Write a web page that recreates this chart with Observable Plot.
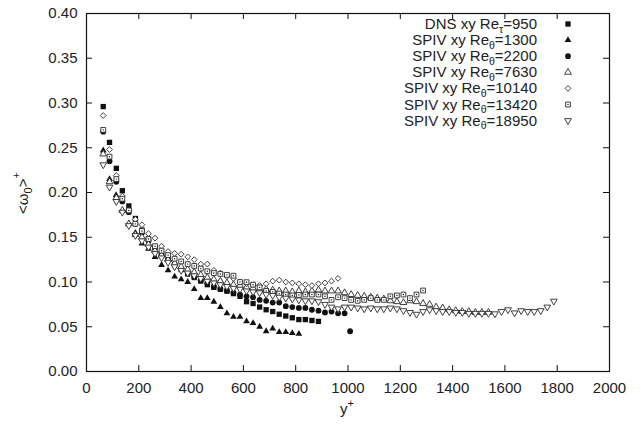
<!DOCTYPE html>
<html>
<head>
<meta charset="utf-8">
<script src="https://cdn.jsdelivr.net/npm/d3@7"></script>
<script src="https://cdn.jsdelivr.net/npm/@observablehq/plot@0.6"></script>
<style>
  html, body { margin: 0; padding: 0; background: white; }
  svg text { font-family: "Liberation Sans", Arial, sans-serif; }
</style>
</head>
<body>
<div id="chart"></div>
<script>
const xTicks = [0,200,400,600,800,1000,1200,1400,1600,1800,2000];
const yTicks = [0,0.05,0.10,0.15,0.20,0.25,0.30,0.35,0.40];

const dnsX = [64,88,114,137,162,187,212,237,262,287,312,337,362,387,412,437,462,487,512,537,562,587,612,637,662,687,712,737,762,787,812,837,862,887];
const dnsY = [0.296,0.256,0.227,0.202,0.185,0.171,0.158,0.148,0.139,0.131,0.125,0.119,0.114,0.109,0.105,0.101,0.097,0.094,0.092,0.090,0.087,0.084,0.078,0.076,0.072,0.069,0.067,0.064,0.062,0.060,0.058,0.058,0.057,0.056];

const r1300X = [64,88,113,138,162,187,212,237,262,287,312,337,362,387,412,437,462,487,512,537,562,587,612,637,662,687,712,737,762,787,812];
const r1300Y = [0.247,0.215,0.197,0.180,0.165,0.155,0.143,0.137,0.128,0.119,0.113,0.106,0.103,0.100,0.092,0.082,0.082,0.078,0.072,0.065,0.061,0.061,0.056,0.054,0.050,0.045,0.048,0.044,0.044,0.043,0.042];

const r2200X = [64,88,114,137,162,187,212,237,262,287,312,337,362,387,412,437,462,487,512,537,562,587,612,637,662,687,712,737,762,787,812,837,862,887,912,937,962,987,1008];
const r2200Y = [0.268,0.235,0.212,0.190,0.178,0.165,0.155,0.146,0.138,0.131,0.125,0.120,0.115,0.111,0.106,0.102,0.099,0.095,0.092,0.090,0.088,0.086,0.084,0.083,0.080,0.079,0.077,0.077,0.073,0.072,0.071,0.071,0.069,0.068,0.066,0.067,0.065,0.065,0.045];

const r7630X = [64,88,114,137,162,187,212,237,262,287,312,337,362,387,412,437,462,487,512,537,562,587,612,637,662,687,712,737,762,787,812,837,862,887,912,937,962,987,1012,1037,1062,1087,1112,1137,1162,1187,1212,1237,1262,1287,1312,1337,1362,1387,1412,1437,1462,1487,1512,1537];
const r7630Y = [0.243,0.212,0.194,0.180,0.165,0.153,0.150,0.142,0.135,0.130,0.125,0.121,0.117,0.114,0.111,0.108,0.105,0.103,0.101,0.099,0.097,0.096,0.094,0.093,0.092,0.092,0.091,0.090,0.090,0.089,0.090,0.089,0.090,0.091,0.090,0.090,0.090,0.088,0.086,0.085,0.084,0.083,0.082,0.081,0.079,0.078,0.077,0.079,0.078,0.076,0.075,0.072,0.071,0.069,0.068,0.067,0.067,0.066,0.066,0.066];

const r10140X = [64,88,114,137,162,187,212,237,262,287,312,337,362,387,412,437,462,487,512,537,562,587,612,637,662,687,712,737,762,787,812,837,862,887,912,937,962];
const r10140Y = [0.286,0.248,0.219,0.196,0.180,0.170,0.164,0.154,0.149,0.140,0.134,0.132,0.131,0.128,0.125,0.120,0.120,0.113,0.110,0.106,0.104,0.100,0.098,0.097,0.096,0.098,0.101,0.102,0.100,0.099,0.098,0.097,0.096,0.098,0.099,0.101,0.104];

const r13420X = [64,88,114,137,162,187,212,237,262,287,312,337,362,387,412,437,462,487,512,537,562,587,612,637,662,687,712,737,762,787,812,837,862,887,912,937,962,987,1012,1037,1062,1087,1112,1137,1162,1187,1212,1237,1262,1287];
const r13420Y = [0.270,0.240,0.215,0.193,0.180,0.165,0.157,0.148,0.140,0.135,0.130,0.126,0.123,0.120,0.118,0.115,0.112,0.110,0.109,0.108,0.107,0.100,0.0998,0.097,0.094,0.090,0.089,0.087,0.086,0.085,0.0855,0.086,0.086,0.086,0.084,0.080,0.083,0.082,0.080,0.079,0.080,0.082,0.080,0.080,0.084,0.085,0.086,0.082,0.086,0.0905];

const r18950X = [64,88,114,137,162,187,212,237,262,287,312,337,362,387,412,437,462,487,512,537,562,587,612,637,662,687,712,737,762,787,812,837,862,887,912,937,962,987,1012,1037,1062,1087,1112,1137,1162,1187,1212,1237,1262,1287,1312,1337,1362,1387,1412,1437,1462,1487,1512,1537,1562,1587,1612,1637,1662,1687,1712,1737,1762,1787];
const r18950Y = [0.231,0.206,0.190,0.178,0.163,0.152,0.146,0.139,0.132,0.127,0.122,0.117,0.113,0.110,0.107,0.104,0.101,0.099,0.097,0.095,0.093,0.092,0.090,0.089,0.088,0.086,0.085,0.083,0.082,0.081,0.080,0.079,0.079,0.078,0.075,0.072,0.070,0.072,0.072,0.071,0.070,0.071,0.070,0.070,0.071,0.070,0.068,0.066,0.064,0.067,0.069,0.068,0.067,0.067,0.066,0.066,0.065,0.065,0.065,0.065,0.0645,0.067,0.069,0.0655,0.068,0.067,0.067,0.068,0.072,0.0786];

const legendMain = ["DNS xy Re","SPIV xy Re","SPIV xy Re","SPIV xy Re","SPIV xy Re","SPIV xy Re","SPIV xy Re"];
const legendSub = ["τ","θ","θ","θ","θ","θ","θ"];
const legendTail = ["=950","=1300","=2200","=7630","=10140","=13420","=18950"];

const pts = (xs, ys) => xs.slice(0, Math.min(xs.length, ys.length)).map((x, i) => ({x, y: ys[i]}));

const W = 641, H = 424, mL = 86, mR = 32, mT = 13, mB = 53;
const pw = W - mL - mR, ph = H - mT - mB;
const ink = "#111";
const openStroke = "#2a2a2a";

const series = [
  {data: pts(dnsX, dnsY), symbol: "square", r: 3.0, fill: ink, stroke: "none"},
  {data: pts(r1300X, r1300Y), symbol: "triangle", r: 2.5, fill: ink, stroke: "none"},
  {data: pts(r2200X, r2200Y), symbol: "circle", r: 2.9, fill: ink, stroke: "none"},
  {data: pts(r7630X, r7630Y), symbol: "triangle", r: 2.5, fill: "white", stroke: openStroke},
  {data: pts(r10140X, r10140Y), symbol: "diamond2", r: 2.6, fill: "white", stroke: openStroke},
  {data: pts(r13420X, r13420Y), symbol: "square", r: 2.7, fill: "white", stroke: openStroke, dot: true},
  {data: pts(r18950X, r18950Y), symbol: "triangle", r: 2.5, fill: "white", stroke: openStroke, rotate: 180}
];

const marks = [
  Plot.axisX(xTicks, {tickSize: 0, tickPadding: 11, label: null, fontSize: 15, fill: "#222", tickFormat: d => String(d)}),
  Plot.axisY(yTicks, {tickSize: 0, tickPadding: 9, label: null, fontSize: 15, fill: "#222", tickFormat: d => d.toFixed(2)}),
  Plot.tickX(xTicks, {x: d => d, insetTop: ph - 6, stroke: ink}),
  Plot.tickX(xTicks, {x: d => d, insetBottom: ph - 6, stroke: ink}),
  Plot.tickY(yTicks, {y: d => d, insetRight: pw - 6, stroke: ink}),
  Plot.tickY(yTicks, {y: d => d, insetLeft: pw - 6, stroke: ink})
];
for (const s of series) {
  marks.push(Plot.dot(s.data, {x: "x", y: "y", symbol: s.symbol, r: s.r, fill: s.fill, stroke: s.stroke, strokeWidth: 0.9, rotate: s.rotate || 0}));
  if (s.dot) marks.push(Plot.dot(s.data, {x: "x", y: "y", r: 0.7, fill: ink}));
}
marks.push(Plot.frame({stroke: ink, strokeWidth: 1.2}));

const svg = Plot.plot({
  width: W, height: H,
  marginLeft: mL, marginRight: mR, marginTop: mT, marginBottom: mB,
  x: {domain: [0, 2000]},
  y: {domain: [0, 0.4]},
  style: {background: "white", fontFamily: "Liberation Sans, Arial, sans-serif", fontSize: "15px", overflow: "visible"},
  marks
});
document.getElementById("chart").appendChild(svg);

const sel = d3.select(svg);
const font = "Liberation Sans, Arial, sans-serif";

// legend
const lg = sel.append("g").attr("font-family", font).attr("font-size", 15).attr("fill", "#222");
series.forEach((s, i) => {
  const yb = 29 + i * 16.1;
  const t = lg.append("text").attr("x", 537).attr("y", yb).attr("text-anchor", "end");
  t.append("tspan").text(legendMain[i]);
  t.append("tspan").attr("dy", 3.5).attr("font-size", 10.5).text(legendSub[i]);
  t.append("tspan").attr("dy", -3.5).text(legendTail[i]);
  const sym = {square: d3.symbolSquare, triangle: d3.symbolTriangle, circle: d3.symbolCircle, diamond2: d3.symbolDiamond2}[s.symbol];
  const cy = yb - 5;
  lg.append("path")
    .attr("d", d3.symbol(sym, s.r * s.r * Math.PI)())
    .attr("transform", `translate(568,${cy}) rotate(${s.rotate || 0})`)
    .attr("fill", s.fill).attr("stroke", s.stroke).attr("stroke-width", 0.9);
  if (s.dot) lg.append("circle").attr("cx", 568).attr("cy", cy).attr("r", 0.7).attr("fill", ink);
});

// x label
const xl = sel.append("text").attr("x", 347).attr("y", 414).attr("text-anchor", "middle")
  .attr("font-family", font).attr("font-size", 15).attr("fill", "#222");
xl.append("tspan").text("y");
xl.append("tspan").attr("dy", -7).attr("font-size", 11).text("+");

// y label
const yl = sel.append("text").attr("transform", "translate(28,193) rotate(-90)").attr("text-anchor", "middle")
  .attr("font-family", font).attr("font-size", 15).attr("fill", "#222");
yl.append("tspan").text("<ω");
yl.append("tspan").attr("dy", 4).attr("font-size", 11).text("0");
yl.append("tspan").attr("dy", -4).text(">");
yl.append("tspan").attr("dy", -8).attr("font-size", 11).text("+");
</script>
</body>
</html>
